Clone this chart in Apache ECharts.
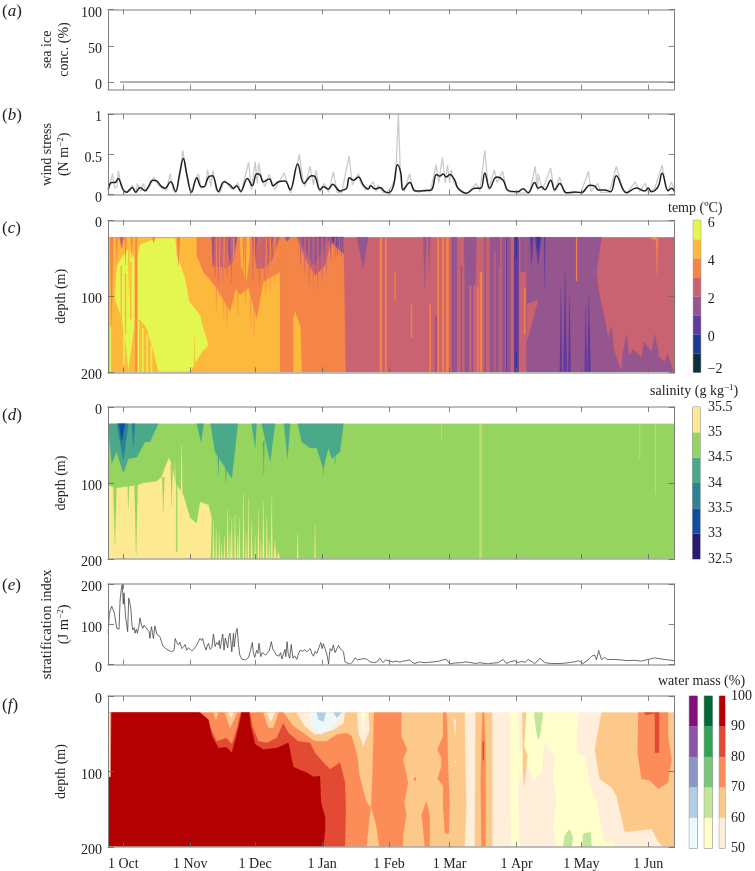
<!DOCTYPE html>
<html><head><meta charset="utf-8">
<script src="https://cdn.jsdelivr.net/npm/echarts@6/dist/echarts.min.js"></script>
<style>html,body{margin:0;padding:0;background:#fff}#c{width:755px;height:871px}</style>
</head><body><div id="c"></div>
<script>
// ---- data: days since 1 Oct, depth in m ----
const monthLabels=['1 Oct','1 Nov','1 Dec','1 Jan','1 Feb','1 Mar','1 Apr','1 May','1 Jun'];
const monthDays=[0,31,61,92,123,151,182,212,243];
const seaIce=[[-1.5,0],[0,0],[31,0],[61,0],[92,0],[123,0],[151,0],[182,0],[212,0],[243,0],[255.2,0]];
const windSmooth=[[-7,.066],[-5.4,.15],[-3.9,.15],[-2.3,.2],[-1.2,.14],[0,.06],[1.5,.03],[2.8,.06],[4.2,.09],[5.7,.03],[7.7,.09],[10,.05],[11.6,.1],[13.6,.18],[15.4,.17],[17.7,.1],[19.3,.08],[21.9,.16],[24.2,.04],[25.9,.24],[27.8,.45],[29.3,.26],[31.6,.03],[34,.21],[36,.1],[37.3,.1],[39.4,.22],[41.2,.235],[44,.04],[46.6,.16],[49.4,.12],[50.9,.08],[52.5,.11],[54.3,.04],[57.4,.2],[59.7,.11],[61.7,.26],[63.3,.245],[64.8,.16],[67.6,.195],[69.4,.11],[71.8,.16],[74.8,.17],[77.2,.06],[80.7,.38],[83.6,.14],[87.2,.235],[88.7,.225],[91,.06],[92.6,.1],[94.9,.07],[96.9,.13],[100.3,.045],[101.9,.06],[103.4,.08],[104.6,.21],[106.5,.18],[108.8,.22],[111.1,.12],[113.4,.07],[114.5,.11],[116.5,.07],[118.8,.09],[121,.037],[122.8,.025],[124.9,.1],[126.9,.37],[128.4,.27],[129.5,.06],[132.6,.15],[134.9,.05],[137.2,.045],[139.5,.05],[142.6,.06],[144.9,.25],[146.5,.23],[148,.255],[149.5,.22],[151.1,.25],[153.4,.18],[154.9,.08],[158.8,.017],[162.7,.08],[165.4,.08],[167.3,.27],[169.6,.08],[172.7,.22],[175.8,.18],[178.1,.05],[182.7,.037],[185,.075],[187.4,.025],[190.4,.15],[192,.08],[193.5,.1],[195.1,.06],[197.8,.18],[199.7,.06],[202,.14],[205.1,.025],[209,.033],[212,.025],[215.9,.116],[218.2,.107],[219.8,.058],[222.8,.058],[225.6,.037],[228.2,.235],[232.9,.025],[237.5,.083],[241.4,.045],[242.9,.083],[244.5,.037],[247.5,.1],[249.4,.265],[252.2,.05],[253.7,.08],[255.2,.037]];
const windRaw=[[-7,.04],[-5,.26],[-4,.08],[-3,.1],[-2.3,.3],[-1,.1],[.5,.02],[3,.05],[4,.12],[5.7,.02],[6.5,.14],[8,.04],[9.2,.14],[10.5,.03],[12,.1],[14.2,.22],[16,.12],[18,.08],[20,.05],[21.6,.26],[23,.06],[24.3,.02],[26,.2],[27.5,.55],[29,.3],[31,.02],[34.7,.26],[36,.08],[38,.1],[39,.31],[40.5,.1],[41.5,.3],[43,.06],[44.5,.02],[47,.18],[49,.1],[51,.06],[53,.15],[54.5,.02],[58,.4],[59.3,.06],[61,.41],[62,.14],[62.6,.39],[64,.2],[65.5,.1],[67.5,.25],[70,.06],[74.4,.27],[76,.14],[77.5,.02],[81.5,.5],[83,.2],[84,.1],[86.4,.35],[88,.12],[89.2,.3],[91,.03],[93,.14],[95,.03],[97.2,.28],[99,.03],[101,.02],[104.5,.48],[106,.12],[108.8,.26],[110,.14],[112,.06],[115.8,.16],[117,.04],[118,.12],[120,.03],[122,.02],[124.5,.12],[126,.2],[127.3,1],[128.3,.2],[130,.04],[132.5,.26],[134,.05],[137,.03],[140,.07],[142,.03],[144.8,.37],[146,.15],[147.7,.46],[149,.15],[150,.37],[151,.15],[151.8,.31],[153,.15],[155,.08],[159,.01],[163.4,.14],[165,.04],[167.3,.55],[169,.06],[171.7,.31],[173,.15],[175.6,.29],[177,.1],[179,.03],[183,.02],[188,.02],[190.6,.35],[191.8,.05],[192,.26],[194,.06],[197.8,.33],[199.5,.03],[201.9,.22],[204,.03],[208,.02],[212,.04],[215.3,.29],[216.5,.04],[219.6,.14],[221,.03],[225,.03],[228.2,.35],[231,.08],[233,.02],[237,.16],[239,.04],[241.6,.14],[243,.02],[246,.08],[249.4,.37],[251,.1],[252,.04],[253.7,.16],[255.2,.03]];
const stratIndex=[[-7,78],[-6.5,127],[-5.4,145],[-4.3,131],[-3,90],[-2,88],[-1.5,160],[-1,185],[-.5,200],[0,150],[.3,178],[1,120],[2,82],[2.5,165],[3.4,143],[3.9,105],[4.3,86],[5,92],[5.4,78],[6,88],[6.5,78],[7.2,95],[7.7,116],[8.4,98],[9,90],[9.6,98],[10.3,94],[11,88],[11.9,82],[12.3,65],[13,94],[13.5,80],[13.9,65],[14.6,96],[15.2,82],[15.7,74],[16.4,76],[16.9,70],[17.6,58],[18.4,46],[19.4,41],[20.8,36],[21.5,38],[22.4,32],[23.5,36],[24,65],[24.7,55],[25.5,49],[26.2,56],[27,40],[28,45],[28.6,50],[29.3,36],[30.2,42],[31,38],[31.7,34],[32.4,32],[33.2,42],[34,49],[34.8,58],[35.5,65],[36.2,60],[36.7,65],[37.5,48],[38.3,36],[38.8,46],[39.4,53],[40.2,38],[41,43],[41.7,76],[42.5,45],[43.2,55],[44,49],[44.4,60],[44.8,40],[45.4,58],[46,76],[46.6,36],[47.2,66],[47.8,70],[48.3,42],[48.9,72],[49.4,78],[50.2,32],[51,78],[51.3,44],[51.7,61],[52.2,82],[52.7,90],[53.3,50],[53.9,24],[55,13],[56.5,12],[57.2,15],[58,18],[58.8,34],[59.7,55],[60.2,30],[60.8,18],[61.7,36],[62.3,28],[62.8,53],[63.6,20],[64.3,30],[65,28],[65.8,24],[66.7,28],[67.5,34],[68.5,57],[69.2,38],[70,32],[70.8,24],[72,21],[72.8,30],[73.4,14],[74,12],[74.8,38],[75.2,20],[75.8,57],[76.3,28],[77,16],[77.7,50],[78.5,16],[79.3,22],[80.3,13],[81,26],[81.8,36],[83,33],[84,37],[85,32],[85.8,36],[86.5,40],[87.2,28],[88,21],[88.8,33],[89.5,28],[90.5,42],[91.4,55],[92,40],[92.6,52],[93.4,49],[94.2,26],[95,2],[95.7,40],[96.5,34],[97.2,49],[98,30],[98.8,32],[99.6,48],[100.3,40],[101.2,42],[101.9,32],[102.6,7],[104.9,1],[106,6],[107.2,17],[108.4,12],[109.5,13],[111,15],[112.6,14],[114.2,7],[116.4,5],[117.6,8],[118.7,16],[120.2,5],[121.4,12],[122.5,10],[124.9,7],[126.4,9],[128,6],[129.5,9],[131,10],[132.6,12],[133.6,6],[134.9,3],[137,7],[139.5,5],[141.5,6],[143.4,7],[145.7,8],[148,12],[149.5,13],[151.1,2],[153,4],[156.5,5],[158.6,7],[161.1,5],[163,3],[165,5],[168.8,2],[171,4],[173.5,5],[175.8,13],[177.3,3],[179,7],[181.2,10],[182.7,5],[184.3,8],[186,6],[187.4,13],[188.6,9],[190.4,3],[191.6,8],[192.8,16],[195.1,5],[198,3],[202.8,3],[206,5],[209,7],[210.5,10],[212.8,3],[215.1,12],[216.7,21],[218.2,24],[219,12],[220,35],[221.3,13],[222.8,18],[224,13],[227.5,13],[230,12],[233.6,10],[236,11],[239.8,9],[242.9,13],[246,17],[248,15],[250.6,13],[255.2,10]];

// contour patches: [band, [day,depth, day,depth, ...]] painted in order
const tempPatches=[
[4,[-7.1,22.4,255.2,22.4,255.2,200,-7.1,200]],
[6,[-7.1,22.4,72.5,22.4,72.5,200,-7.1,200]],
[5,[72.5,22.4,101.9,22.4,102.9,200,72.5,200]],
[6,[78.7,200,82.6,200,82,140,79.5,120,78.7,130]],
[7,[7.7,32,15.4,24,24,24,24.7,46,28.5,76,30.5,107,35.5,125,37,142,39.4,164,35.5,177,31,199,16.2,199,14,173,10.8,142,7.7,131,5.4,133,3.9,164,2.3,197,1.2,164,-.8,129,-3.9,103,-3,59,2.3,37,6.2,54]],
[5,[34,22.4,34,46,37,68,43.2,89,49.4,120,52,90,54,98,58,89,61.7,129,64.8,81,72.5,68,72.5,22.4]],
[6,[54,22.4,54.5,60,57,80,59.4,22.4]],
[4,[40.9,22.4,41.5,59,47.8,63,50.9,54,53,22.4]],
[4,[59.4,22.4,61.7,63,64.8,63,68.6,54,72.5,22.4]],
[4,[80.2,22.4,84.9,54,88.7,72,93.4,59,95.7,32,101.9,25,101.9,22.4]],
[3,[40.9,22.4,41.5,63,42.5,22.4]],[3,[47,22.4,49.4,54,53,22.4]],[3,[59.4,22.4,61,46,62,22.4]],[3,[65.5,22.4,67.6,46,69.4,22.4]],[3,[74.8,22.4,75.9,28,77.2,22.4]],
[3,[81,22.4,88,59,95,26,102,44,102,22.4]],[3,[108,22.4,111,63,113.4,22.4]],
[2,[89.2,22.4,91,37,93.8,22.4]],[2,[95.7,22.4,98.8,34,101.9,22.4]],[1,[90.5,22.4,91,30,92,22.4]],[1,[97,22.4,98,28,99,22.4]],
[3,[186.6,22.4,221.3,22.4,219,68,220,90,221.3,111,222.5,125,224.4,155,226,140,227,170,230.6,199,231,176,233,150,234,178,236,170,239.8,181,241,160,244.5,173,246,150,248,180,250.6,186,252,175,254.5,199,186.6,200]],
[3,[157.7,22.4,163.5,22.4,163,85,158,85]],
[4,[186.8,110,192,105,186.8,160]]
];
const tempStreaks=[ // [day,width,top,bottom,band,shape] shape 0 bar, 1 tip down, 2 tip up
[-5.4,1.5,22.4,140,5,1],[-3,.8,22.4,60,5,1],[2.6,1,22.4,100,6,1],[5.9,1.5,22.4,200,6,0],[5.9,.7,22.4,200,5,0],[-.8,2,22.4,37,4,1],[1,.8,22.4,60,5,1],[3.9,.8,22.4,50,5,1],[14,1.4,22.4,30,5,1],[25.5,1.5,22.4,60,5,1],
[-1,.6,60,130,6,0],[1,.6,70,150,6,0],[3.4,.6,55,130,6,0],[.3,.7,129,190,7,0],[7,.6,133,200,7,0],[9,.6,142,200,7,0],[11,.6,150,200,7,0],[13,.6,165,200,7,0],[33,.6,150,200,6,2],[36.5,.6,170,200,6,2],[-6,.5,140,200,7,0],[-4,.5,150,200,6,0],
[43,1,22.4,120,5,1],[44.5,.8,22.4,100,5,1],[46.5,1,22.4,130,5,1],[48,1,22.4,140,5,1],[51,.8,22.4,115,5,1],[53,.8,22.4,125,5,1],[55.6,.8,22.4,90,5,1],[56.5,1,22.4,110,5,1],[59,1,22.4,140,5,1],[60.5,.8,22.4,150,5,1],[63,.8,22.4,110,5,1],[66,1,22.4,100,5,1],[68,.8,22.4,95,5,1],[70,.8,22.4,85,5,1],
[42.5,1,22.4,75,4,1],[44,.8,22.4,85,4,1],[46,.8,22.4,78,4,1],[48,.8,22.4,75,4,1],[50,.8,22.4,82,4,1],[60,.6,22.4,80,4,1],[63,.8,22.4,85,4,1],[65.5,.8,22.4,80,4,1],[67,.8,22.4,72,4,1],
[82,.8,22.4,60,4,1],[84,1,22.4,70,4,1],[86,1,22.4,85,4,1],[88,1,22.4,88,4,1],[90,1,22.4,90,4,1],[92,1,22.4,80,4,1],[94,.8,22.4,70,4,1],[96,.8,22.4,55,4,1],[98,.8,22.4,50,4,1],[100,.8,22.4,45,4,1],
[83,.8,22.4,42,3,1],[85,.8,22.4,50,3,1],[87,.8,22.4,62,3,1],[89,1,22.4,72,3,1],[91,1,22.4,68,3,1],[93,.8,22.4,60,3,1],[96,.8,22.4,40,3,1],[99,.8,22.4,46,3,1],[101,.8,22.4,48,3,1],
[119.2,1,22.4,200,5,0],[121.5,.7,22.4,200,5,0],[125.7,.5,68,106,5,0],[133.4,.5,111,155,5,0],[139.5,1.5,22.4,90,3,1],[141.6,1,22.4,70,3,1],[145,1.2,125,200,3,0],[142,.6,111,200,5,0],[145.7,.8,22.4,200,5,0],[148,.8,22.4,200,5,0],[150,1.2,22.4,200,5,0],[153.2,2.5,22.4,200,3,0],[159,2,85,200,3,0],[156.5,.6,60,200,3,0],[161.5,.6,85,200,3,0],[165.5,1,68,199,5,0],[164,.5,88,199,5,0],
[167.5,.7,22.4,200,3,0],[172,4.7,22.4,200,3,0],[172,.5,40,200,4,0],[174,.5,60,200,4,0],[176,1.5,22.4,200,3,0],[178.5,1.5,22.4,200,3,0],[177.4,.4,22.4,200,2,0],[181.9,2.2,22.4,200,2,0],[181.9,.4,22.4,50,1,0],[181.9,.4,175,200,1,0],[185,2.5,22.4,68,3,0],[185.8,.6,90,150,5,0],
[189,1.5,22.4,60,2,1],[192,3,22.4,59,2,1],[192,1,22.4,40,1,1],[195,.6,22.4,89,2,1],[202.5,1,89,199,2,2],[204.5,1.6,68,199,2,2],[206.5,1.2,100,199,2,2],[214,1,111,199,2,2],[215.5,1.6,100,199,2,2],[209.8,.5,22.4,80,5,0],[247,1,22.4,76,5,1],[245.5,4,22.4,27,5,1],[246,1.5,22.4,24,6,1]
];
const salPatches=[
[4,[-7.1,22,255.2,22,255.2,200,-7.1,200]],
[5,[-7.1,102.6,-3.9,107,1.5,105,6.9,102.6,9.3,100,15.4,98,17.7,92,20,74,21.1,67,22.4,76,23.9,98,27.8,116,30.9,146,34,153,35.5,125,39.4,129,40.9,146,40.4,200,-7.1,200]],
[3,[-7.1,22,-5.4,74,-3.1,59,0,87,2.3,68,6.2,66,10,46,12.3,46,16.2,22]],
[3,[34,22,36,46,37.2,22]],[3,[40.4,22,42.4,59,46.3,76,50.2,94,53,22]],[3,[59.4,22,61,54,61.7,22]],[3,[64,22,68,72,70.2,22]],[3,[74.4,22,76,68,77.2,22]],
[3,[80.7,22,82.6,46,86.4,54,89.5,54,92.6,81,94.9,54,96.5,68,100.3,59,101.9,22]],
[2,[-3,22,0,70,2.3,22]],[2,[3.9,22,4.6,55,5.4,22]],[1,[-2,22,-.8,46,.8,22]]
];
const salStreaks=[
[-3.9,1.5,107,181,4,1],[5.9,1.5,103,195,4,1],[2.3,.7,103,135,4,1],[18.5,1,92,138,4,1],[24.7,.5,22,190,4,0],[22.4,1,76,130,4,1],[27,.7,50,116,5,2],[23.9,.5,72,110,5,2],
[41.7,.7,150,200,5,2],[43,.6,160,200,5,2],[44.4,.6,165,200,5,2],[45.5,.6,180,200,5,2],[46.8,.6,170,200,5,2],[48.3,.7,133,200,5,2],[49.4,.5,165,200,5,2],[50.2,.7,146,200,5,2],[51.7,.7,142,200,5,2],[52.8,.5,170,200,5,2],[53.7,.7,146,200,5,2],[55.6,.6,112,200,5,2],[56.8,.5,165,200,5,2],[57.9,.6,120,200,5,2],[59.4,.7,150,200,5,2],[61,.5,170,200,5,2],[62.5,.7,135,200,5,2],[63.7,.5,175,200,5,2],[64.8,.7,125,200,5,2],[66.4,.7,146,200,5,2],[67.6,.6,175,200,5,2],[68.7,.7,117,200,5,2],[70.2,1.2,177,200,5,2],[71.8,1.2,190,200,5,2],[80.7,.6,166,200,5,2],[88.7,.5,155,200,5,2],
[44,.8,59,90,3,1],[47.5,.8,70,100,3,1],[65,.6,45,90,3,1],[92.6,.6,70,90,3,1],[98,.6,55,75,3,1]
];
const salFaint=[[147.3,.5,22,45],[165.4,1.5,22,200],[239,.6,22,68],[246.3,.6,22,115]];
const massPatches=[
[0,[-7.1,22,255.2,22,255.2,200,-7.1,200]],
[1,[-7.1,200,-7.1,22,158,22,158.3,97,158.8,141,158,200]],
[1,[163,22,170.7,22,170.7,200,162.7,200]],
[5,[178.9,22,182.7,22,183.5,84,182.7,110,183,182,184.3,200,179.6,200,178.9,141]],
[5,[186.6,22,210.5,22,209.7,75,213.6,80,215.9,115,219,141,222.8,193,227.5,193,227.5,200,184.3,200,183,141,183.5,84]],
[0,[195,62,199.7,79,198.9,106,200.5,141,198.9,171.5,200.5,200,183.5,200,183,119,185.8,88,190.4,110,193.5,101.5]],
[6,[190.1,22,194.3,22,193,51,192,58,191,45]],[6,[203.6,200,204.3,184.7,206.6,176,208.2,188,207.4,200]],[6,[212.4,200,212.8,182,216.4,180,216.7,200]],
[1,[184.7,22,186.5,22,185.5,66,187,79,185.5,121,184.9,97]],
[1,[221.3,22,218.2,71,220.5,110,225.9,121,228.2,132,232.1,180,244.5,176,247.5,193,250,200,255.2,200,255.2,22]],
[2,[238.3,22,238,75,239.8,110,243.6,112,247.5,123,252.1,115,253.7,84,252.1,53,252.1,22]],
[3,[241.1,22,241.9,25,246,23,246,75,248,75,248,22]],
[2,[-7.1,200,-7.1,22,74.1,22,78.7,40,83.3,49,88.7,60,94,60,98.8,51,103.4,49,105.7,53,108.3,79,109.3,106,112.6,141,114.5,147.5,113.4,176,112.6,200]],
[2,[116,22,115.3,106,114.7,147.5,117,171,118.5,200,129.5,200,129.5,184,131,158,130,141,131.8,115,129.5,84,131.3,71,128.7,53,128.7,22]],
[2,[148,22,149.5,22,150,53,150.3,97,151.1,141,150.6,182,148.8,182,148,145,148,119,145.4,110,147.2,93,147.2,82,145.4,71,148,53]],
[2,[138,158,140.3,139,141.8,158,141.8,200,139.5,200,138.8,176]],
[2,[166.2,22,165.7,66,165.4,115,165.7,200,167.6,200,167.7,115,167.6,71,167,22]],
[3,[-7.1,200,-7.1,22,34.7,22,39.8,40,43.2,60,47.8,55.6,50.2,64,52.7,42,54.3,22,58.6,22,59.7,40,62.5,60,66.4,62,71,55.6,74,36,76.4,49,81,60,86.4,62,88.7,75,92.6,88,95.7,97,100.3,88,102.6,115,103,150,102.6,200]],
[4,[-7.1,200,-7.1,108,-6,107,-5.4,22,35.5,22,39.4,31.5,41,53,44,69,47.8,68,50.2,75,52.7,49,54.8,22,58.2,22,59,40,61,64,64.8,71,71,69,76.4,62,78.7,94,85,101.5,88,107,91,106,91.5,141,93.4,160.6,93.4,176,92.6,200]],
[0,[-7.1,22,-6,22,-6,107,-7.1,107]],
[1,[41.7,22,42.9,31.5,44,22]],[1,[47,22,49.4,42.4,52.7,22]],[0,[48.6,22,49.8,29,51,22]],
[1,[64.8,22,67.1,42,69.4,42,71.8,22]],[0,[66.4,22,68.2,33.7,70.2,22]],
[0,[80.2,22,84,40,88.7,51,97.2,45,101.9,36,102.6,22]],
[10,[85.6,22,87.2,40,91,51,95.7,44.6,101.9,22]],[11,[89.5,22,90.3,31.5,92.6,33.7,93.8,22]],[11,[97.2,22,98.8,29,101.1,22]],
[0,[108.3,22,108.8,49,111.1,66.5,113.9,44.6,113.4,22]],[5,[110,22,111.1,47,112.2,22]],
[0,[153,31,154,31,153.6,53]]
];
const massStreaks=[[166.6,.6,60,85,3,0],[135,1,108,112,2,0],[153.5,.6,86,88,0,0]];

const tempLevels=[-2,-1,0,1,2,3,4,5,6];
const salLevels=[32.5,33,33.5,34,34.5,35,35.5];
const massLevels=[50,60,70,80,90,100];

// ---- styles ----
const tempColors=['#0b2f3d','#1e3a94','#62399c','#95568f','#c96372','#f58447','#fdb93b','#e4f750'];
const salColors=['#2a1a72','#0f4ea0','#2c8296','#49a988','#95d45f','#fde992'];
const orRd=['#feeeda','#fdc98b','#fc8d59','#e34a33','#b30000'];
const ylGn=['#ffffcc','#c2e699','#78c679','#31a354','#006837'];
const buPu=['#edf8fb','#b3cde3','#8c96c6','#8856a7','#810f7c'];
const massColors=orRd.concat(ylGn,buPu);
const SERIF='"Liberation Serif","Times New Roman",serif';
const XMIN=-7.1, XMAX=255.2, PL=108, PW=566.7;
const panels=[
 {top:9.5,h:80,ymin:-10.3,ymax:100,ticks:[0,50,100],name:'sea ice\nconc. (%)',gap:35,fs:14},
 {top:114,h:80.7,ymin:0,ymax:1,ticks:[0,.5,1],name:'wind stress\n(N m{s|\u22122})',gap:35,fs:14},
 {top:220.3,h:152,ymin:0,ymax:200,ticks:[0,100,200],inv:1,name:'depth (m)',gap:38,fs:14},
 {top:407,h:152,ymin:0,ymax:200,ticks:[0,100,200],inv:1,name:'depth (m)',gap:38,fs:14},
 {top:584,h:80.7,ymin:0,ymax:200,ticks:[0,100,200],name:'stratification index\n(J m{s|\u22122})',gap:35,fs:14.6},
 {top:696,h:152.3,ymin:0,ymax:200,ticks:[0,100,200],inv:1,name:'depth (m)',gap:38,fs:14,labels:1}
];
const grid=[],xAxis=[],yAxis=[],series=[];
const rich={s:{fontFamily:SERIF,fontSize:9,verticalAlign:'top',lineHeight:16},i:{fontFamily:SERIF,fontStyle:'italic',fontSize:17}};
const lineV={show:true,onZero:false,lineStyle:{color:'#7d7d7d',width:1}};
const lineH={show:true,onZero:false,lineStyle:{color:'#a8a8a8',width:1.5}};
panels.forEach((p,i)=>{
 grid.push({left:PL,top:p.top,width:PW,height:p.h,containLabel:false});
 const tick={show:true,inside:true,length:5,customValues:monthDays,lineStyle:{color:'#666',width:.8}};
 const ax={type:'value',gridIndex:i,min:XMIN,max:XMAX,z:6,splitLine:{show:false},axisLine:lineH,axisTick:tick};
 xAxis.push(Object.assign({},ax,{position:'bottom',
   axisLabel:p.labels?{show:true,customValues:monthDays,formatter:v=>monthLabels[monthDays.indexOf(v)],color:'#222',fontFamily:SERIF,fontSize:14,margin:10}:{show:false}}));
 xAxis.push(Object.assign({},ax,{position:'top',axisLabel:{show:false}}));
 const ytick={show:true,inside:true,length:6,customValues:p.ticks,lineStyle:{color:'#666',width:.8}};
 const ay={type:'value',gridIndex:i,min:p.ymin,max:p.ymax,inverse:!!p.inv,z:6,splitLine:{show:false},axisLine:lineV,axisTick:ytick};
 yAxis.push(Object.assign({},ay,{position:'left',name:p.name,nameLocation:'middle',nameRotate:90,nameGap:p.gap,nameMoveOverlap:false,
   nameTextStyle:{fontFamily:SERIF,fontSize:p.fs,color:'#222',lineHeight:17,rich},
   axisLabel:{show:true,customValues:p.ticks,color:'#222',fontFamily:SERIF,fontSize:14,margin:6,verticalAlign:'top',lineHeight:7}}));
 yAxis.push(Object.assign({},ay,{position:'right',axisLabel:{show:false}}));
});
const ax=i=>({xAxisIndex:i*2,yAxisIndex:i*2});
series.push(Object.assign({type:'line',data:seaIce,showSymbol:false,silent:true,animation:false,lineStyle:{color:'#666',width:1}},ax(0)));
series.push(Object.assign({type:'line',data:windRaw,showSymbol:false,silent:true,animation:false,lineStyle:{color:'#cbcbcb',width:1.3}},ax(1)));
series.push(Object.assign({type:'line',data:windSmooth,smooth:.4,showSymbol:false,silent:true,animation:false,lineStyle:{color:'#1f1f1f',width:1.5}},ax(1)));
series.push(Object.assign({type:'line',data:stratIndex,showSymbol:false,silent:true,animation:false,lineStyle:{color:'#444',width:.8}},ax(4)));

function streakPoly(s){const [d,w,t,b,,k]=s;const l=d-w/2,r=d+w/2;
 if(k===1)return [l,t,r,t,d,b];
 if(k===2)return [l,b,d,t,r,b];
 return [l,t,r,t,r,b,l,b];}
function fieldSeries(panel,patches,streaks,colors){
 const items=patches.map(p=>({band:p[0],pts:p[1]})).concat(streaks.map(s=>({band:s[4],pts:streakPoly(s)})));
 series.push(Object.assign({type:'custom',silent:true,animation:false,z:2,clip:true,
  data:items.map((_,i)=>[i]),
  renderItem(params,api){const it=items[api.value(0)],pts=[];
    for(let k=0;k<it.pts.length;k+=2)pts.push(api.coord([it.pts[k],it.pts[k+1]]));
    return {type:'polygon',shape:{points:pts},style:{fill:colors[it.band],stroke:colors[it.band],lineWidth:.2}};}
 },ax(panel)));
}
fieldSeries(2,tempPatches,tempStreaks,tempColors);
fieldSeries(3,salPatches,salStreaks,salColors);
series.push(Object.assign({type:'custom',silent:true,animation:false,z:3,data:salFaint,
 renderItem(params,api){const a=api.coord([api.value(0)-api.value(1)/2,api.value(2)]),b=api.coord([api.value(0)+api.value(1)/2,api.value(3)]);
   return {type:'rect',shape:{x:a[0],y:a[1],width:b[0]-a[0],height:b[1]-a[1]},style:{fill:salColors[5],opacity:.35}};}},ax(3)));
fieldSeries(5,massPatches,massStreaks,massColors);

// colour bars
function colorBar(left,width,top,height,levels,colors,labels){
 const g=grid.length, xi=xAxis.length, yi=yAxis.length;
 grid.push({left,top,width,height,show:true,borderColor:'#8a8a8a',borderWidth:1,backgroundColor:'transparent'});
 xAxis.push({type:'value',gridIndex:g,min:0,max:1,show:false});
 yAxis.push({type:'value',gridIndex:g,min:levels[0],max:levels[levels.length-1],position:'right',
  splitLine:{show:false},axisLine:{show:false,onZero:false},axisTick:{show:false},
  axisLabel:labels?Object.assign({show:true,customValues:labels.vals,color:'#222',fontFamily:SERIF,fontSize:14,margin:labels.margin},
    labels.fmt?{formatter:labels.fmt}:{},labels.tempAlign?{verticalAlign:'top',lineHeight:6,verticalAlignMinLabel:'bottom'}:{}):{show:false}});
 const bands=levels.slice(0,-1).map((v,i)=>[v,levels[i+1],i]);
 series.push({type:'custom',silent:true,animation:false,xAxisIndex:xi,yAxisIndex:yi,z:2,data:bands,
  renderItem(params,api){const a=api.coord([0,api.value(1)]),b=api.coord([1,api.value(0)]);
   return {type:'rect',shape:{x:a[0],y:a[1],width:b[0]-a[0],height:b[1]-a[1]},style:{fill:colors[api.value(2)]}};}});
}
const minus=v=>String(v).replace('-','\u2212');
colorBar(693.3,7.4,220.3,152,tempLevels,tempColors,{vals:[-2,0,2,4,6],fmt:minus,margin:7,tempAlign:true});
colorBar(692.7,7.4,407,152,salLevels,salColors,{vals:salLevels,fmt:v=>String(v),margin:8});
colorBar(689.3,8,696,152.3,massLevels,buPu,null);
colorBar(704.3,8,696,152.3,massLevels,ylGn,null);
colorBar(719.3,7.8,696,152.3,massLevels,orRd,{vals:massLevels,margin:6});

// text
const letters=[['a',3],['b',107],['c',220],['d',407],['e',577],['f',697]];
const title=letters.map(([l,t])=>({text:'({i|'+l+'})',left:2,top:t,padding:0,textStyle:{fontFamily:SERIF,fontSize:17,fontWeight:'normal',color:'#222',rich}}));
[['temp (\u00baC)',668,201],['salinity (g kg{s|\u22121})',650,383],['water mass (%)',658,674]].forEach(([text,left,top])=>
 title.push({text,left,top,padding:0,textStyle:{fontFamily:SERIF,fontSize:14,fontWeight:'normal',color:'#222',rich}}));

const chart=echarts.init(document.getElementById('c'),null,{renderer:'canvas'});
chart.setOption({animation:false,backgroundColor:'#fff',title,grid,xAxis,yAxis,series,tooltip:{show:false}});
</script></body></html>
